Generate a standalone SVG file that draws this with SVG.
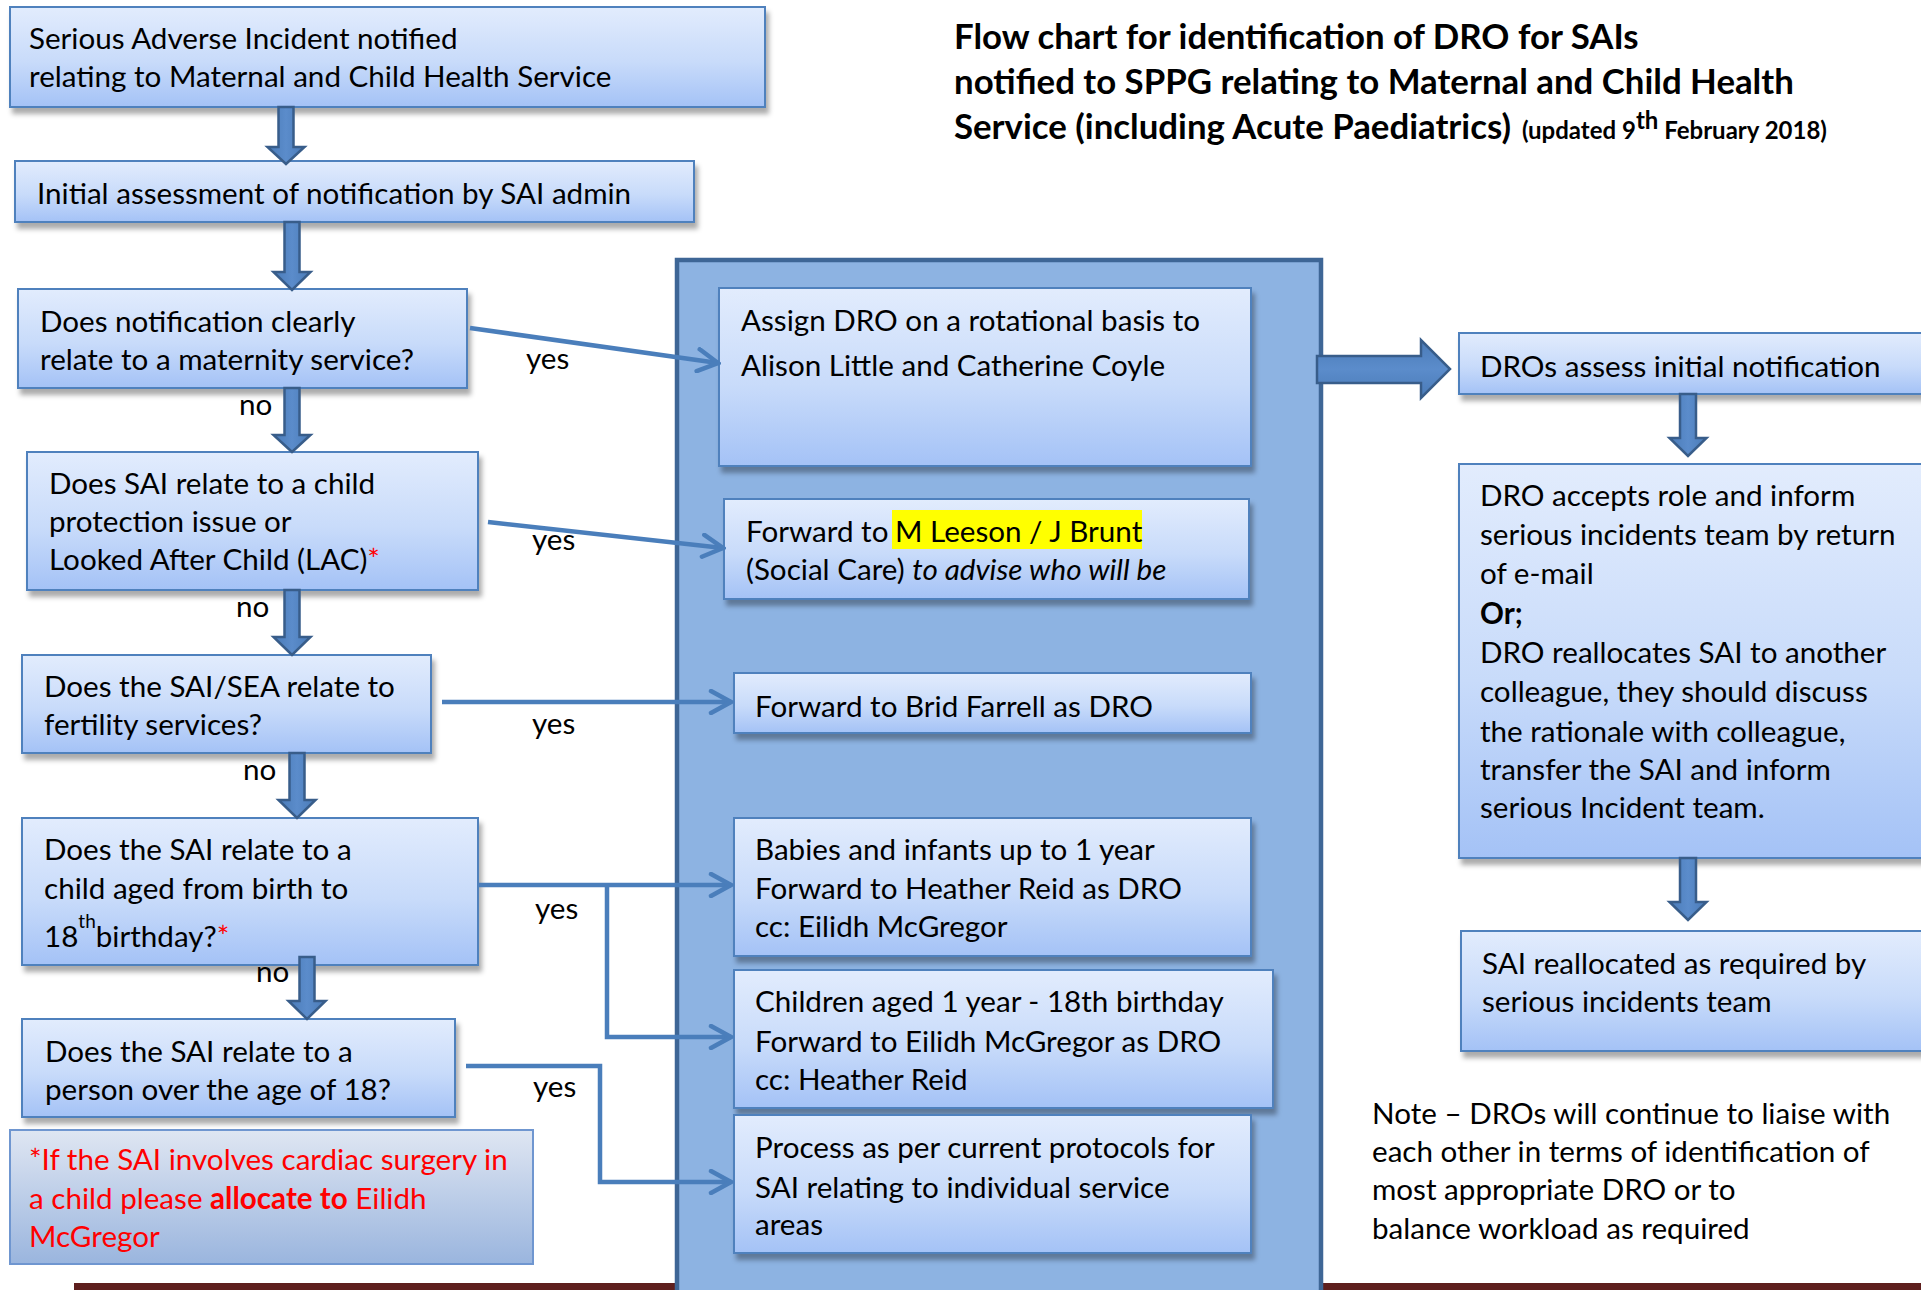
<svg xmlns="http://www.w3.org/2000/svg" width="1921" height="1290" viewBox="0 0 1921 1290">
  <defs>
    <linearGradient id="gBox" x1="0" y1="0" x2="0" y2="1">
      <stop offset="0" stop-color="#E2ECFD"/>
      <stop offset="0.55" stop-color="#C8DBFA"/>
      <stop offset="1" stop-color="#A4C2F6"/>
    </linearGradient>
    <linearGradient id="gNote" x1="0" y1="0" x2="0" y2="1">
      <stop offset="0" stop-color="#DFE6F2"/>
      <stop offset="1" stop-color="#9AB5DE"/>
    </linearGradient>
    <linearGradient id="gArrowV" x1="0" y1="0" x2="1" y2="0">
      <stop offset="0" stop-color="#4A7BB7"/>
      <stop offset="0.5" stop-color="#5B8CCB"/>
      <stop offset="1" stop-color="#4A7BB7"/>
    </linearGradient>
    <linearGradient id="gArrowH" x1="0" y1="0" x2="0" y2="1">
      <stop offset="0" stop-color="#4A7BB7"/>
      <stop offset="0.5" stop-color="#5B8CCB"/>
      <stop offset="1" stop-color="#4A7BB7"/>
    </linearGradient>
    <filter id="shadow" x="-5%" y="-10%" width="115%" height="130%">
      <feDropShadow dx="3" dy="6" stdDeviation="2.5" flood-color="#000" flood-opacity="0.33"/>
    </filter>
    <marker id="open" viewBox="0 0 26 26" refX="23" refY="13" markerWidth="26" markerHeight="26" markerUnits="userSpaceOnUse" orient="auto">
      <path d="M3,2 L23,13 L3,24" fill="none" stroke="#4A7EBB" stroke-width="4.5" stroke-linecap="round" stroke-linejoin="miter"/>
    </marker>
    <style>
      .box { fill: url(#gBox); stroke: #4F81BD; stroke-width: 2; filter: url(#shadow); }
      .note { fill: url(#gNote); stroke: #6F96D0; stroke-width: 2; }
      .panel { fill: #8DB3E2; stroke: #3E6696; stroke-width: 4.5; }
      .t { font-family: Lato, "Open Sans", "Liberation Sans", sans-serif; font-size: 29.6px; fill: #000; }
      .red { fill: #FF0000; }
      .b { font-weight: 700; }
      .i { font-style: italic; }
      .title { font-family: Lato, "Open Sans", "Liberation Sans", sans-serif; font-weight: 700; font-size: 34.8px; fill: #000; }
      .small { font-size: 24px; }
      .conn { fill: none; stroke: #4A7EBB; stroke-width: 4.5; }
      .blk { stroke: #385D8A; stroke-width: 2.5; stroke-linejoin: miter; }
      .blkv { fill: url(#gArrowV); }
      .blkh { fill: url(#gArrowH); }
    </style>
  </defs>

  <rect x="0" y="0" width="1921" height="1290" fill="#FFFFFF"/>

  <!-- footer rule -->
  <rect x="74" y="1283" width="1847" height="7" fill="#5E1F1E"/>

  <!-- title -->
  <g id="title">
    <text class="title" x="954" y="49">Flow chart for identification of DRO for SAIs</text>
    <text class="title" x="954" y="94">notified to SPPG relating to Maternal and Child Health</text>
    <text class="title" x="954" y="139">Service (including Acute Paediatrics) <tspan class="small" x="1522">(updated 9</tspan><tspan class="small" font-size="14" dy="-10">th</tspan><tspan class="small" dy="10"> February 2018)</tspan></text>
  </g>

  <!-- central allocation panel -->
  <g id="panel">
    <rect class="panel" x="677" y="260" width="644" height="1060"/>
  </g>

  <!-- left column: decision boxes -->
  <g id="n-notified">
    <rect class="box" x="10" y="7" width="755" height="100"/>
    <text class="t" x="29" y="49">Serious Adverse Incident notified</text>
    <text class="t" x="29" y="87">relating to Maternal and Child Health Service</text>
  </g>
  <g id="n-initial">
    <rect class="box" x="15" y="161" width="679" height="61"/>
    <text class="t" x="37" y="204">Initial assessment of notification by SAI admin</text>
  </g>
  <g id="n-maternity">
    <rect class="box" x="18" y="289" width="449" height="99"/>
    <text class="t" x="40" y="332">Does notification clearly</text>
    <text class="t" x="40" y="370">relate to a maternity service?</text>
  </g>
  <g id="n-protection">
    <rect class="box" x="27" y="452" width="451" height="138"/>
    <text class="t" x="49" y="494">Does SAI relate to a child</text>
    <text class="t" x="49" y="532">protection issue or</text>
    <text class="t" x="49" y="570">Looked After Child (LAC)<tspan class="red">*</tspan></text>
  </g>
  <g id="n-fertility">
    <rect class="box" x="22" y="655" width="409" height="98"/>
    <text class="t" x="44" y="697">Does the SAI/SEA relate to</text>
    <text class="t" x="44" y="735">fertility services?</text>
  </g>
  <g id="n-child">
    <rect class="box" x="22" y="818" width="456" height="147"/>
    <text class="t" x="44" y="860">Does the SAI relate to a</text>
    <text class="t" x="44" y="899">child aged from birth to</text>
    <text class="t" x="44" y="947">18<tspan font-size="19" dy="-19">th</tspan><tspan dy="19">birthday?</tspan><tspan class="red">*</tspan></text>
  </g>
  <g id="n-adult">
    <rect class="box" x="22" y="1019" width="433" height="98"/>
    <text class="t" x="45" y="1062">Does the SAI relate to a</text>
    <text class="t" x="45" y="1100">person over the age of 18?</text>
  </g>
  <g id="n-cardiac">
    <rect class="note" x="10" y="1130" width="523" height="134"/>
    <text class="t red" x="29" y="1170">*If the SAI involves cardiac surgery in</text>
    <text class="t red" x="29" y="1209">a child please <tspan class="b">allocate to</tspan> Eilidh</text>
    <text class="t red" x="29" y="1247">McGregor</text>
  </g>

  <!-- allocation boxes inside the panel -->
  <g id="n-assign">
    <rect class="box" x="719" y="288" width="532" height="178"/>
    <text class="t" x="741" y="331">Assign DRO on a rotational basis to</text>
    <text class="t" x="741" y="376">Alison Little and Catherine Coyle</text>
  </g>
  <g id="n-social">
    <rect class="box" x="724" y="499" width="525" height="100"/>
    <rect x="892" y="510" width="250" height="39" fill="#FFFF00"/>
    <text class="t" x="746" y="542">Forward to <tspan x="895">M Leeson / J Brunt</tspan></text>
    <text class="t" x="746" y="580">(Social Care) <tspan class="i">to advise who will be</tspan></text>
  </g>
  <g id="n-brid">
    <rect class="box" x="734" y="673" width="517" height="60"/>
    <text class="t" x="755" y="717">Forward to Brid Farrell as DRO</text>
  </g>
  <g id="n-babies">
    <rect class="box" x="734" y="818" width="517" height="138"/>
    <text class="t" x="755" y="860">Babies and infants up to 1 year</text>
    <text class="t" x="755" y="899">Forward to Heather Reid as DRO</text>
    <text class="t" x="755" y="937">cc: Eilidh McGregor</text>
  </g>
  <g id="n-children">
    <rect class="box" x="734" y="970" width="539" height="138"/>
    <text class="t" x="755" y="1012">Children aged 1 year - 18th birthday</text>
    <text class="t" x="755" y="1052">Forward to Eilidh McGregor as DRO</text>
    <text class="t" x="755" y="1090">cc: Heather Reid</text>
  </g>
  <g id="n-process">
    <rect class="box" x="734" y="1115" width="517" height="138"/>
    <text class="t" x="755" y="1158">Process as per current protocols for</text>
    <text class="t" x="755" y="1198">SAI relating to individual service</text>
    <text class="t" x="755" y="1235">areas</text>
  </g>

  <!-- right column -->
  <g id="n-assess">
    <rect class="box" x="1459" y="333" width="480" height="61"/>
    <text class="t" x="1480" y="377">DROs assess initial notification</text>
  </g>
  <g id="n-accepts">
    <rect class="box" x="1459" y="464" width="480" height="394"/>
    <text class="t" x="1480" y="506">DRO accepts role and inform</text>
    <text class="t" x="1480" y="545">serious incidents team by return</text>
    <text class="t" x="1480" y="584">of e-mail</text>
    <text class="t b" x="1480" y="624">Or;</text>
    <text class="t" x="1480" y="663">DRO reallocates SAI to another</text>
    <text class="t" x="1480" y="702">colleague, they should discuss</text>
    <text class="t" x="1480" y="742">the rationale with colleague,</text>
    <text class="t" x="1480" y="780">transfer the SAI and inform</text>
    <text class="t" x="1480" y="818">serious Incident team.</text>
  </g>
  <g id="n-reallocated">
    <rect class="box" x="1461" y="931" width="480" height="120"/>
    <text class="t" x="1482" y="974">SAI reallocated as required by</text>
    <text class="t" x="1482" y="1012">serious incidents team</text>
  </g>
  <g id="n-footnote">
    <text class="t" x="1372" y="1124">Note – DROs will continue to liaise with</text>
    <text class="t" x="1372" y="1162">each other in terms of identification of</text>
    <text class="t" x="1372" y="1200">most appropriate DRO or to</text>
    <text class="t" x="1372" y="1239">balance workload as required</text>
  </g>

  <!-- connectors -->
  <g id="connectors">
    <!-- block arrows down the decision chain -->
    <path class="blk blkv" d="M278.5,107 L293.5,107 L293.5,147 L304.5,147 L286,164 L267.5,147 L278.5,147 Z"/>
    <path class="blk blkv" d="M284.5,222 L299.5,222 L299.5,272 L310.5,272 L292,290 L273.5,272 L284.5,272 Z"/>
    <path class="blk blkv" d="M284.5,388 L299.5,388 L299.5,435 L310.5,435 L292,452 L273.5,435 L284.5,435 Z"/>
    <path class="blk blkv" d="M284.5,590 L299.5,590 L299.5,637 L310.5,637 L292,655 L273.5,637 L284.5,637 Z"/>
    <path class="blk blkv" d="M289.5,753 L304.5,753 L304.5,800 L315.5,800 L297,818 L278.5,800 L289.5,800 Z"/>
    <path class="blk blkv" d="M299.5,957 L314.5,957 L314.5,1001 L325.5,1001 L307,1019 L288.5,1001 L299.5,1001 Z"/>
    <!-- panel to DRO assessment -->
    <path class="blk blkh" d="M1317,356 L1421,356 L1421,340 L1450,369 L1421,398 L1421,383 L1317,383 Z"/>
    <!-- right column block arrows -->
    <path class="blk blkv" d="M1680,394 L1696,394 L1696,438 L1706.5,438 L1688,456 L1669.5,438 L1680,438 Z"/>
    <path class="blk blkv" d="M1680,858 L1696,858 L1696,902 L1706.5,902 L1688,920 L1669.5,902 L1680,902 Z"/>

    <!-- yes branches -->
    <path class="conn" d="M470,328 L718,363" marker-end="url(#open)"/>
    <path class="conn" d="M488,522 L723,548" marker-end="url(#open)"/>
    <path class="conn" d="M442,702 L731,702" marker-end="url(#open)"/>
    <path class="conn" d="M479,885 L731,885" marker-end="url(#open)"/>
    <path class="conn" d="M607,885 L607,1037 L731,1037" marker-end="url(#open)"/>
    <path class="conn" d="M466,1066 L600,1066 L600,1182 L731,1182" marker-end="url(#open)"/>

    <!-- branch labels -->
    <text class="t" x="526" y="369">yes</text>
    <text class="t" x="532" y="550">yes</text>
    <text class="t" x="532" y="734">yes</text>
    <text class="t" x="535" y="919">yes</text>
    <text class="t" x="533" y="1097">yes</text>
    <text class="t" x="239" y="415">no</text>
    <text class="t" x="236" y="617">no</text>
    <text class="t" x="243" y="780">no</text>
    <text class="t" x="256" y="982">no</text>
  </g>
</svg>
